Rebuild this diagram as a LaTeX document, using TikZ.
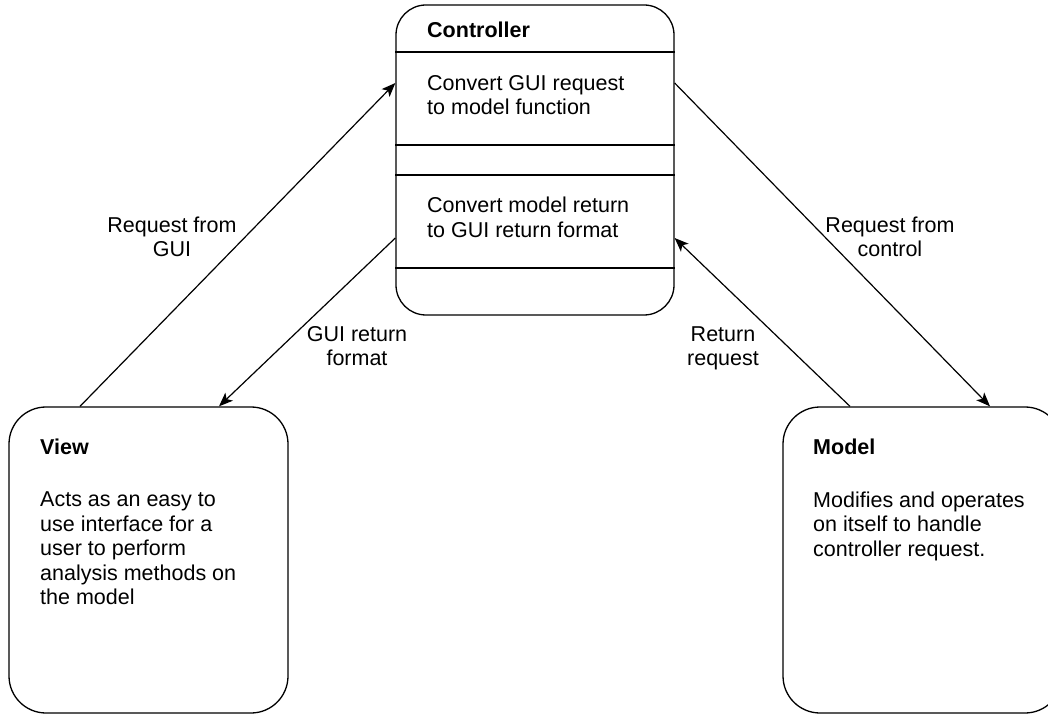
\documentclass[tikz,border=0pt]{standalone}
\usepackage{fontspec}
\setmainfont{Liberation Sans}
\usetikzlibrary{arrows.meta}
\tikzset{
  box/.style={draw, line width=1.3pt, inner sep=0pt},
  divider/.style={line width=1.3pt},
  % multi-line texts are placed by the baseline of their last line
  txt/.style={inner sep=0pt, anchor=base west, align=left,
    font=\fontsize{21.5}{24.5}\selectfont},
  ttl/.style={txt, font=\fontsize{21.5}{24.5}\selectfont\bfseries},
  lbl/.style={inner sep=0pt, anchor=base, align=center,
    font=\fontsize{21.5}{24}\selectfont},
  flow/.style={line width=1.2pt, -{Stealth[length=14pt, width=11pt, inset=3.5pt]}},
}
\begin{document}
\begin{tikzpicture}[x=1pt, y=1pt]
  \useasboundingbox (0,0) rectangle (1048,715);
  \clip (0,0) rectangle (1048,715);

  % Controller with its four horizontal sections
  \node[box, rounded corners=30pt, minimum width=278pt, minimum height=310pt] (ctrl) at (535,555) {};
  \draw[divider] (ctrl.west |- 0,663) -- (ctrl.east |- 0,663);
  \draw[divider] (ctrl.west |- 0,570) -- (ctrl.east |- 0,570);
  \draw[divider] (ctrl.west |- 0,540) -- (ctrl.east |- 0,540);
  \draw[divider] (ctrl.west |- 0,447) -- (ctrl.east |- 0,447);
  \node[ttl] (ctrlT) at (427,677.7) {Controller};
  \node[txt] (ctrlA) at (427,600) {Convert GUI request\\to model function};
  \node[txt] (ctrlB) at (427,477.5) {Convert model return\\to GUI return format};

  % View and Model
  \node[box, rounded corners=37pt, minimum width=279pt, minimum height=306pt] (view) at (148.5,155) {};
  \node[ttl] (viewT) at (40,261) {View};
  \node[txt] (viewB) at (40,110.3) {Acts as an easy to\\use interface for a\\user to perform\\analysis methods on\\the model};

  \node[box, rounded corners=37pt, minimum width=279pt, minimum height=306pt] (model) at (922.5,155) {};
  \node[ttl] (modelT) at (813,261) {Model};
  \node[txt] (modelB) at (813,159) {Modifies and operates\\on itself to handle\\controller request.};

  % Connectors
  \draw[flow] ([xshift=-68.5pt]view.north) -- ([yshift=77pt]ctrl.west);
  \draw[flow] ([yshift=-78pt]ctrl.west) -- ([xshift=70.5pt]view.north);
  \draw[flow] ([yshift=77pt]ctrl.east) -- ([xshift=67.5pt]model.north);
  \draw[flow] ([xshift=-72.5pt]model.north) -- ([yshift=-78pt]ctrl.east);

  % Connector labels
  \node[lbl] (l1) at (172,458) {Request from\\GUI};
  \node[lbl] (l2) at (357,349) {GUI return\\format};
  \node[lbl] (l3) at (890,458) {Request from\\control};
  \node[lbl] (l4) at (723,349) {Return\\request};
\end{tikzpicture}
\end{document}
